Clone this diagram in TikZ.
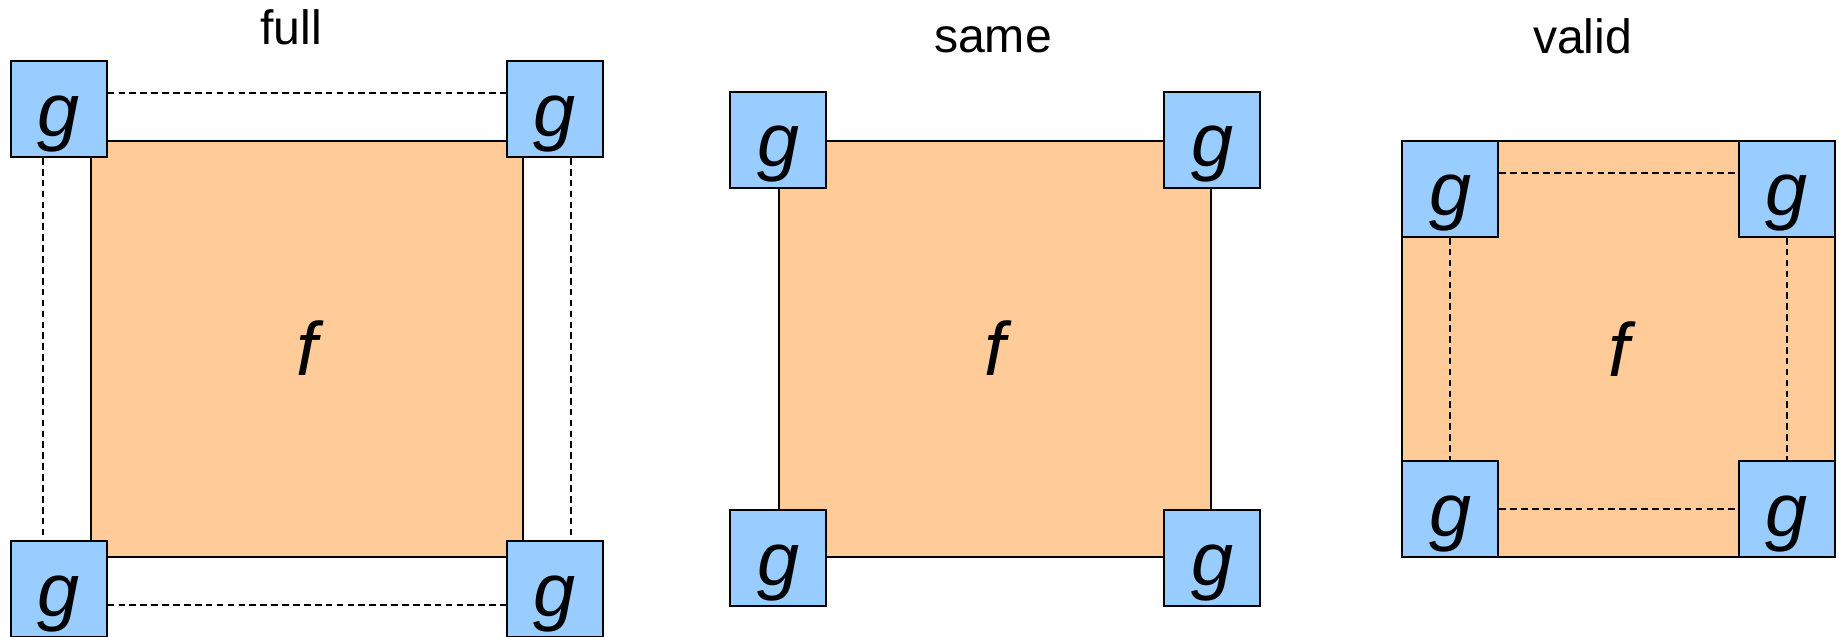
\documentclass[tikz,border=0pt]{standalone}
\usepackage{fontspec}
\setmainfont{Liberation Sans}
\usetikzlibrary{calc}
\definecolor{fcolor}{HTML}{FFCC99}
\definecolor{gcolor}{HTML}{99CCFF}
\tikzset{
  fbox/.style={draw=black, line width=0.55pt, fill=fcolor, inner sep=0pt,
    minimum width=4.32cm, minimum height=4.16cm,
    text height=0.6cm, text depth=0.06cm, font=\fontsize{21.5}{25}\selectfont\itshape},
  gbox/.style={draw=black, line width=0.55pt, fill=gcolor, inner sep=0pt,
    minimum size=0.96cm,
    text height=0.6cm, text depth=0.06cm, font=\fontsize{21.5}{25}\selectfont\itshape},
  dashline/.style={line width=0.6pt, dash pattern=on 1.9pt off 1.2pt},
  title/.style={anchor=base, inner sep=0pt, font=\fontsize{13.7}{16}\selectfont}
}
\begin{document}
\begin{tikzpicture}[x=0.01cm, y=-0.01cm]
            \useasboundingbox (0,0) rectangle (1839,637);%

            % Panel full
            \node [title] (tfull) at (291.0,45.0) {full};%
            \node [fbox] (ffull) at (306.7,348.7) {f};%
            \node [gbox] (fulltl) at (58.7,109.0) {g};%
            \node [gbox] (fulltr) at (554.7,109.0) {g};%
            \node [gbox] (fullbl) at (58.7,589.0) {g};%
            \node [gbox] (fullbr) at (554.7,589.0) {g};%
            \draw [dashline] ($(fulltl.east)+(0,-16)$) -- ($(fulltr.west)+(0,-16)$);%
            \draw [dashline] ($(fullbl.east)+(0,16)$) -- ($(fullbr.west)+(0,16)$);%
            \draw [dashline] ($(fulltl.south)+(-16,0)$) -- ($(fullbl.north)+(-16,0)$);%
            \draw [dashline] ($(fulltr.south)+(16,0)$) -- ($(fullbr.north)+(16,0)$);%

            % Panel same
            \node [title] (tsame) at (993.0,53.0) {same};%
            \node [fbox] (fsame) at (995.2,348.9) {f};%
            \node [gbox] (sametl) at (fsame.north west) {g};%
            \node [gbox] (sametr) at (fsame.north east) {g};%
            \node [gbox] (samebl) at (fsame.south west) {g};%
            \node [gbox] (samebr) at (fsame.south east) {g};%

            % Panel valid
            \node [title] (tvalid) at (1582.6,53.7) {valid};%
            \node [fbox] (fvalid) at (1618.5,349.0) {f};%
            \node [gbox, anchor=north west] (validtl) at (fvalid.north west) {g};%
            \node [gbox, anchor=north east] (validtr) at (fvalid.north east) {g};%
            \node [gbox, anchor=south west] (validbl) at (fvalid.south west) {g};%
            \node [gbox, anchor=south east] (validbr) at (fvalid.south east) {g};%
            \draw [dashline] ($(validtl.east)+(0,-16)$) -- ($(validtr.west)+(0,-16)$);%
            \draw [dashline] (validbl.east) -- (validbr.west);%
            \draw [dashline] (validtl.south) -- (validbl.north);%
            \draw [dashline] (validtr.south) -- (validbr.north);%
        \end{tikzpicture}
\end{document}
